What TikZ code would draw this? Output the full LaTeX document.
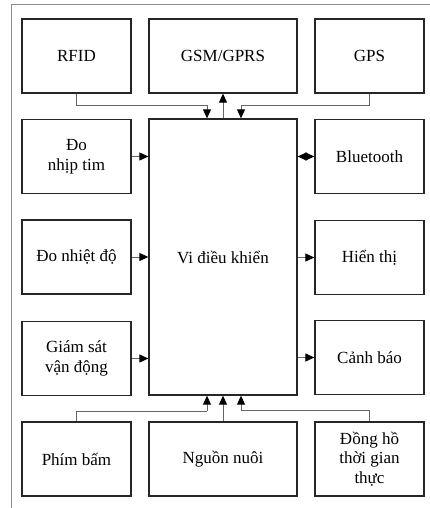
\documentclass[tikz,border=0pt]{standalone}
\usepackage{fontspec}
\setmainfont{Liberation Serif}
\usetikzlibrary{arrows.meta}
\begin{document}
\begin{tikzpicture}[x=1pt,y=-1pt,
  blk/.style={draw=black!85, line width=1.3pt, minimum height=74pt, inner sep=2pt, align=center,
    font=\fontsize{17}{19.5}\selectfont},
  sbox/.style={blk, minimum width=109pt},
  wbox/.style={blk, minimum width=148pt},
  conn/.style={draw=black!60, line width=0.9pt},
  arr/.style={conn, -{Triangle[length=9pt,width=8pt,color=black]}},
  darr/.style={conn, {Triangle[length=9pt,width=8pt,color=black]}-{Triangle[length=9pt,width=8pt,color=black]}}
]
\useasboundingbox (0,0) rectangle (430,508);
% outer frame
\draw[black!45, line width=1pt] (11,508) -- (11,5) -- (430,5);

% boxes
\node[sbox] (rfid) at (76.5,56) {RFID};
\node[wbox] (gsm) at (223,56) {GSM/GPRS};
\node[sbox] (gps) at (369.5,56) {GPS};

\node[blk, minimum width=148pt, minimum height=276pt] (mcu) at (223,257) {Vi điều khiển};

\node[sbox] (hr) at (76.5,156.5) {Đo\\nhịp tim};
\node[sbox] (temp) at (76.5,257) {Đo nhiệt độ};
\node[sbox] (mot) at (76.5,358.5) {Giám sát\\vận động};

\node[sbox] (bt) at (369.5,156.5) {Bluetooth};
\node[sbox] (disp) at (369.5,257.5) {Hiển thị};
\node[sbox] (alarm) at (369.5,357.5) {Cảnh báo};

\node[sbox] (key) at (76.5,459) {Phím bấm};
\node[wbox] (pwr) at (223,459) {Nguồn nuôi};
\node[sbox] (rtc) at (369.5,459) {Đồng hồ\\thời gian\\thực};

% junction coordinates
\coordinate (t1) at (207,105);
\coordinate (t2) at (241,105);
\coordinate (b1) at (207,411);
\coordinate (b2) at (241,410);

% top connectors
\draw[conn] (rfid.south) |- (t1);
\draw[arr] (t1) -- (t1 |- mcu.north);
\draw[arr] (mcu.north) -- (gsm.south);
\draw[conn] (gps.south) |- (t2);
\draw[arr] (t2) -- (t2 |- mcu.north);

% left connectors
\draw[arr] (hr.east) -- (hr.east -| mcu.west);
\draw[arr] (temp.east) -- (temp.east -| mcu.west);
\draw[arr] (mot.east) -- (mot.east -| mcu.west);

% right connectors
\draw[darr] (bt.west -| mcu.east) -- (bt.west);
\draw[arr] (disp.west -| mcu.east) -- (disp.west);
\draw[arr] (alarm.west -| mcu.east) -- (alarm.west);

% bottom connectors
\draw[conn] (key.north) |- (b1);
\draw[arr] (b1) -- (b1 |- mcu.south);
\draw[arr] (pwr.north) -- (mcu.south);
\draw[conn] (rtc.north) |- (b2);
\draw[arr] (b2) -- (b2 |- mcu.south);
\end{tikzpicture}
\end{document}
